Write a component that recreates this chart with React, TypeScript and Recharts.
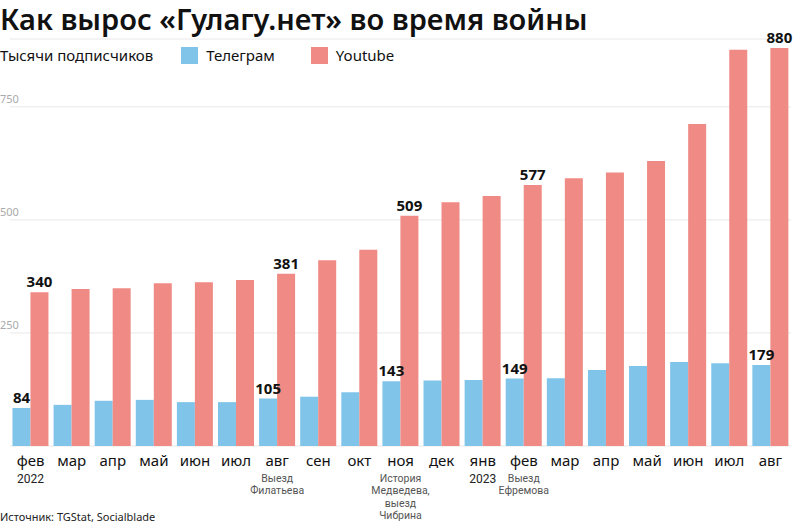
import { BarChart, Bar, XAxis, YAxis, CartesianGrid, LabelList } from "recharts";

const months = ["фев", "мар", "апр", "май", "июн", "июл", "авг", "сен", "окт", "ноя", "дек", "янв", "фев", "мар", "апр", "май", "июн", "июл", "авг"];
const years = ["2022", "", "", "", "", "", "", "", "", "", "", "2023", "", "", "", "", "", "", ""];
const events: string[][] = [
  [], [], [], [], [], [],
  ["Выезд", "Филатьева"],
  [], [],
  ["История", "Медведева,", "выезд", "Чибрина"],
  [], [],
  ["Выезд", "Ефремова"],
  [], [], [], [], [], [],
];
const telegram = [84, 91, 100, 102, 97, 97, 105, 109, 119, 143, 145, 146, 149, 150, 168, 177, 186, 183, 179];
const youtube = [340, 347, 349, 360, 362, 367, 381, 411, 434, 509, 539, 553, 577, 592, 605, 630, 712, 876, 880];
const labeledMonths = [0, 6, 9, 12, 18];
const yTicks = [250, 500, 750];

const BLUE = "#80c4ea";
const RED = "#ef8b84";
const FONT = "'Noto Sans', sans-serif";
const NOTE_FONT = "Roboto, sans-serif";

const data = months.map((m, i) => ({
  key: i,
  month: m,
  telegram: telegram[i],
  youtube: youtube[i],
  tgLabel: labeledMonths.includes(i) ? telegram[i] : null,
  ytLabel: labeledMonths.includes(i) ? youtube[i] : null,
}));

function MonthTick(props: any) {
  const { x, y, payload } = props;
  const i = payload.value as number;
  const year = years[i];
  const notes = events[i];
  return (
    <g>
      <text x={x} y={y + 18} textAnchor="middle" fontSize={15} fill="#111" fontFamily={FONT}>
        {months[i]}
      </text>
      {year && (
        <text x={x} y={y + 35} textAnchor="middle" fontSize={12} fill="#222" fontFamily={NOTE_FONT}>
          {year}
        </text>
      )}
      {notes.map((n, k) => (
        <text key={k} x={x} y={y + 34 + k * 12.3} textAnchor="middle" fontSize={10.5} fill="#555" fontFamily={NOTE_FONT}>
          {n}
        </text>
      ))}
    </g>
  );
}

function ValueTick(props: any) {
  const { y, payload } = props;
  return (
    <text x={0} y={y - 4} fontSize={11} fill="#aaa" fontFamily={FONT} textAnchor="start">
      {payload.value}
    </text>
  );
}

export default function App() {
  return (
    <div style={{ position: "absolute", left: 0, top: 0, width: 800, height: 524, background: "#fff", fontFamily: FONT }}>
      <div style={{ position: "absolute", left: 0, top: 0, fontSize: 29, fontWeight: 600, color: "#111", lineHeight: "38px", whiteSpace: "nowrap" }}>
        Как вырос «Гулагу.нет» во время войны
      </div>
      <div style={{ position: "absolute", left: 0, top: 45, height: 20, display: "flex", alignItems: "center", fontSize: 15, color: "#111", whiteSpace: "nowrap" }}>
        <span>Тысячи подписчиков</span>
        <span style={{ display: "inline-block", width: 17, height: 17, background: BLUE, marginLeft: 28, marginRight: 8 }} />
        <span>Телеграм</span>
        <span style={{ display: "inline-block", width: 17, height: 17, background: RED, marginLeft: 36, marginRight: 8 }} />
        <span>Youtube</span>
      </div>
      <BarChart
        width={800}
        height={524}
        data={data}
        margin={{ top: 39, right: 9, bottom: 0, left: 0 }}
        barCategoryGap="6%"
        barGap={0}
      >
        <CartesianGrid vertical={false} stroke="#e8e8e8" />
        <YAxis
          width={10}
          domain={[0, 900]}
          ticks={yTicks}
          axisLine={false}
          tickLine={false}
          tick={<ValueTick />}
        />
        <XAxis
          dataKey="key"
          height={78}
          axisLine={false}
          tickLine={false}
          tickSize={0}
          interval={0}
          tick={<MonthTick />}
        />
        <Bar dataKey="telegram" fill={BLUE} isAnimationActive={false}>
          <LabelList dataKey="tgLabel" position="top" offset={5} fontSize={15} fontWeight={700} fill="#111" fontFamily={FONT} />
        </Bar>
        <Bar dataKey="youtube" fill={RED} isAnimationActive={false}>
          <LabelList dataKey="ytLabel" position="top" offset={5} fontSize={15} fontWeight={700} fill="#111" fontFamily={FONT} />
        </Bar>
      </BarChart>
      <div style={{ position: "absolute", left: 0, top: 510, fontSize: 11, color: "#222", lineHeight: "14px", whiteSpace: "nowrap" }}>
        Источник: TGStat, Socialblade
      </div>
    </div>
  );
}
